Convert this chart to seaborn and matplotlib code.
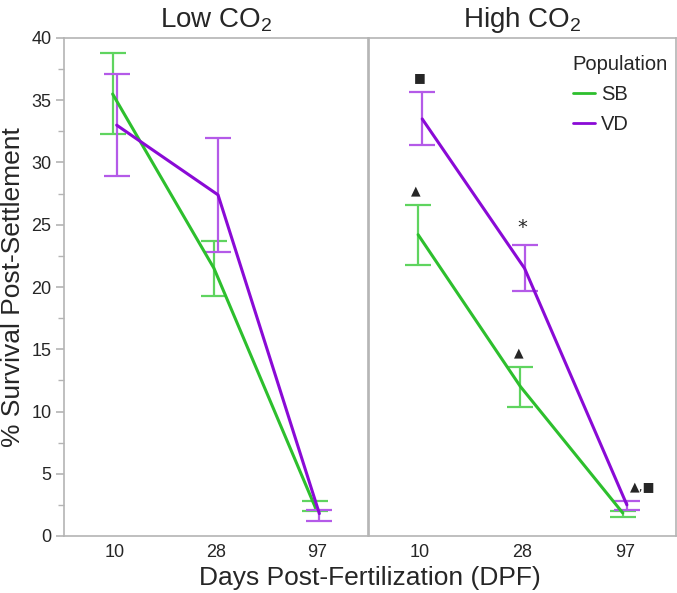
import numpy as np
import pandas as pd
import matplotlib
matplotlib.use('Agg')
import matplotlib.pyplot as plt
from matplotlib.lines import Line2D
import seaborn as sns

# data
dpf = ['10', '28', '97']
populations = ['SB', 'VD']
panels = ['Low', 'High']

low_sb_mean = [35.5, 21.5, 2.3]
low_sb_lo = [32.3, 19.3, 2.0]
low_sb_hi = [38.8, 23.7, 2.8]
low_vd_mean = [33.0, 27.4, 1.8]
low_vd_lo = [28.9, 22.8, 1.2]
low_vd_hi = [37.1, 32.0, 2.1]

high_sb_mean = [24.2, 12.0, 1.85]
high_sb_lo = [21.8, 10.4, 1.55]
high_sb_hi = [26.6, 13.6, 2.0]
high_vd_mean = [33.5, 21.5, 2.5]
high_vd_lo = [31.4, 19.7, 2.05]
high_vd_hi = [35.7, 23.4, 2.8]

# significance symbols in the High CO2 panel: (population, dpf index, text)
high_marks = [('SB', 0, '\u25B2'), ('VD', 0, '\u25A0'), ('VD', 1, '*'),
              ('SB', 1, '\u25B2'), ('VD', 2, '\u25B2,\u25A0')]

rows = []
series = {
    ('Low', 'SB'): (low_sb_mean, low_sb_lo, low_sb_hi),
    ('Low', 'VD'): (low_vd_mean, low_vd_lo, low_vd_hi),
    ('High', 'SB'): (high_sb_mean, high_sb_lo, high_sb_hi),
    ('High', 'VD'): (high_vd_mean, high_vd_lo, high_vd_hi),
}
offset = {'SB': -0.02, 'VD': 0.02}
for (co2, pop), (m, lo, hi) in series.items():
    for i, d in enumerate(dpf):
        rows.append({'co2': co2, 'population': pop, 'dpf': d,
                     'x': i + offset[pop], 'mean': m[i], 'lo': lo[i], 'hi': hi[i]})
df = pd.DataFrame(rows)

sns.set_theme(style='white')
plt.rcParams['font.family'] = ['Liberation Sans', 'DejaVu Sans']
plt.rcParams['mathtext.fontset'] = 'custom'
plt.rcParams['mathtext.rm'] = 'Liberation Sans'

line_colors = {'SB': '#2dbf2d', 'VD': '#8a0ad6'}
bar_colors = {'SB': '#5fd45f', 'VD': '#b45ae8'}
frame = '#b4b4b4'

fig = plt.figure(figsize=(6.77, 5.93), dpi=100)
W, H = 677, 593
top, bottom = 38, 536
axL = fig.add_axes([64 / W, 1 - bottom / H, 304 / W, (bottom - top) / H])
axR = fig.add_axes([369 / W, 1 - bottom / H, 307 / W, (bottom - top) / H], sharey=axL)

for ax, co2 in zip([axL, axR], panels):
    sub = df[df.co2 == co2]
    sns.lineplot(data=sub, x='x', y='mean', hue='population', palette=line_colors,
                 hue_order=populations, lw=2.2, ax=ax, legend=False,
                 estimator=None, errorbar=None)
    for pop in populations:
        s = sub[sub.population == pop]
        ax.errorbar(s['x'], s['mean'], yerr=[s['mean'] - s['lo'], s['hi'] - s['mean']],
                    fmt='none', ecolor=bar_colors[pop], elinewidth=1.6,
                    capsize=9.5, capthick=1.6, zorder=1)
    ax.set_xlim(-0.5, 2.5)
    ax.set_xticks(range(len(dpf)))
    ax.set_xticklabels(dpf, fontsize=13)
    ax.set_xlabel('')
    ax.set_ylabel('')
    ax.set_title(f'{co2} CO$_2$', fontsize=20, pad=8)
    for sp in ax.spines.values():
        sp.set_color(frame)
        sp.set_linewidth(1.2)
    ax.tick_params(axis='x', length=0, pad=6)

axL.set_ylim(0, 40)
axL.set_yticks(np.arange(0, 41, 5))
axL.set_yticks(np.arange(0, 40, 2.5), minor=True)
axL.tick_params(axis='y', which='major', length=6, color=frame, width=1.2, labelsize=13, left=True, pad=3)
axL.tick_params(axis='y', which='minor', length=4, color=frame, width=1, left=True)
axR.tick_params(axis='y', which='both', left=False, labelleft=False)

fig.text(1 / W, 1 - (top + bottom) / 2 / H, '% Survival Post-Settlement', rotation=90,
         ha='left', va='center', fontsize=19)

# significance symbols
hs = df[df.co2 == 'High'].set_index(['population', 'dpf'])
for pop, i, txt in high_marks:
    r = hs.loc[(pop, dpf[i])]
    dx = 0.15 if i == 2 else -0.02
    axR.text(r['x'] + dx, r['hi'] + 0.6, txt, ha='center', va='bottom',
             fontsize=14 if txt == '*' else 9, family=['DejaVu Sans'])

handles = [Line2D([], [], color=line_colors[p], lw=2) for p in populations]
leg = axR.legend(handles, populations, title='Population', loc='upper right',
                 frameon=False, fontsize=14.5, title_fontsize=14.5, handlelength=1.1,
                 handletextpad=0.3, labelspacing=0.55, borderaxespad=0.3,
                 bbox_to_anchor=(1.02, 0.995), alignment='left')

fig.text((64 + 676) / 2 / W, 1 - 578 / H, 'Days Post-Fertilization (DPF)', ha='center',
         va='center', fontsize=19)

fig.savefig('out.png', dpi=100)
